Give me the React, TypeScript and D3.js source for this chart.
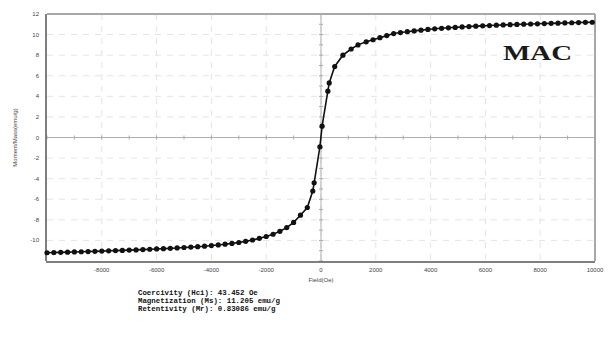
import * as d3 from "d3";

// Field (Oe) and moment (emu/g)
const fields = [
  -10000, -9750, -9500, -9250, -9000, -8750, -8500, -8250, -8000, -7750,
  -7500, -7250, -7000, -6750, -6500, -6250, -6000, -5750, -5500, -5250,
  -5000, -4750, -4500, -4250, -4000, -3750, -3500, -3250, -3000, -2750,
  -2500, -2250, -2000, -1750, -1500, -1250, -1000, -750, -500, -300,
  -250, -40, 40, 250, 300, 500, 800, 1100, 1350, 1650,
  1900, 2150, 2400, 2650, 2900, 3150, 3400, 3650, 3900, 4150,
  4400, 4650, 4900, 5150, 5400, 5650, 5900, 6150, 6400, 6650,
  6900, 7150, 7400, 7650, 7900, 8150, 8400, 8650, 8900, 9150,
  9400, 9650, 9900,
];
const moments = [
  -11.2, -11.18, -11.16, -11.14, -11.12, -11.1, -11.08, -11.06, -11.04, -11.01,
  -10.99, -10.97, -10.94, -10.92, -10.89, -10.86, -10.83, -10.8, -10.77, -10.73,
  -10.69, -10.65, -10.61, -10.56, -10.5, -10.44, -10.37, -10.29, -10.2, -10.09,
  -9.96, -9.8, -9.62, -9.4, -9.12, -8.75, -8.25, -7.55, -6.8, -5.2,
  -4.4, -0.9, 1.1, 4.5, 5.3, 6.9, 8.0, 8.6, 9.0, 9.3,
  9.5, 9.7, 9.9, 10.1, 10.2, 10.28, 10.36, 10.43, 10.5, 10.56,
  10.61, 10.66, 10.7, 10.74, 10.78, 10.82, 10.85, 10.88, 10.91, 10.94,
  10.96, 10.99, 11.01, 11.03, 11.05, 11.07, 11.09, 11.11, 11.13, 11.15,
  11.17, 11.19, 11.2,
];
const xTicks = [-8000, -6000, -4000, -2000, 0, 2000, 4000, 6000, 8000, 10000];
const yTicks = [-10, -8, -6, -4, -2, 0, 2, 4, 6, 8, 10, 12];
const summary = [
  "Coercivity (Hci): 43.452 Oe",
  "Magnetization (Ms): 11.205 emu/g",
  "Retentivity (Mr): 0.83086 emu/g",
];

export default function App() {
  const W = 608, H = 341;
  const x = d3.scaleLinear().domain([-10000, 10000]).range([47, 595]);
  const y = d3.scaleLinear().domain([-12, 12]).range([261, 14]);
  const pts = fields.map((f, i) => [f, moments[i]] as [number, number]);
  const line = d3.line<[number, number]>().x((d) => x(d[0])).y((d) => y(d[1]));
  const minorX = d3.range(-10000, 10001, 1000);
  const minorY = d3.range(-12, 12.1, 1);
  const tickFont = "Arial, 'Liberation Sans', sans-serif";

  return (
    <svg width={W} height={H} style={{ position: "absolute", left: 0, top: 0, background: "#fff" }}>
      {/* grid */}
      {xTicks.map((t) => (
        <line key={"gx" + t} x1={x(t)} x2={x(t)} y1={y(12)} y2={y(-12)} stroke="#e4e4e4" strokeDasharray="6,6" />
      ))}
      {yTicks.map((t) => (
        <line key={"gy" + t} x1={x(-10000)} x2={x(10000)} y1={y(t)} y2={y(t)} stroke="#e4e4e4" strokeDasharray="6,6" />
      ))}
      {/* zero axes */}
      <line x1={x(-10000)} x2={x(10000)} y1={y(0)} y2={y(0)} stroke="#b0b0b0" />
      <line x1={x(0)} x2={x(0)} y1={y(12)} y2={y(-12)} stroke="#b0b0b0" />
      {minorX.map((t) => (
        <line key={"mx" + t} x1={x(t)} x2={x(t)} y1={y(0) - 2} y2={y(0) + 2} stroke="#aaa" />
      ))}
      {minorY.map((t) => (
        <line key={"my" + t} x1={x(0) - 2} x2={x(0) + 2} y1={y(t)} y2={y(t)} stroke="#aaa" />
      ))}
      {/* frame */}
      <line x1={x(-10000)} x2={x(10000)} y1={y(12)} y2={y(12)} stroke="#a8a8a8" strokeWidth={2} />
      <line x1={x(10000)} x2={x(10000)} y1={y(12)} y2={y(-12)} stroke="#a8a8a8" strokeWidth={2} />
      <line x1={x(-10000) - 1} x2={x(-10000) - 1} y1={y(12)} y2={y(-12)} stroke="#555" strokeWidth={1.5} />
      <line x1={x(-10000) - 1} x2={x(10000)} y1={y(-12) + 1} y2={y(-12) + 1} stroke="#555" strokeWidth={1.5} />
      {/* tick labels */}
      {yTicks.map((t) => (
        <text key={"ly" + t} x={39} y={y(t) + 2} textAnchor="end" fontSize={6} fontFamily={tickFont} fill="#444">
          {t}
        </text>
      ))}
      {xTicks.map((t) => (
        <text key={"lx" + t} x={x(t)} y={272} textAnchor="middle" fontSize={6} fontFamily={tickFont} fill="#444">
          {t}
        </text>
      ))}
      <text x={x(0)} y={282} textAnchor="middle" fontSize={6} fontFamily={tickFont} fill="#444">
        Field(Oe)
      </text>
      <text transform={`translate(17,${y(0)}) rotate(-90)`} textAnchor="middle" fontSize={6} fontFamily={tickFont} fill="#444">
        Moment/Mass(emu/g)
      </text>
      {/* data */}
      <path d={line(pts) ?? ""} fill="none" stroke="#111" strokeWidth={1.6} />
      {pts.map((d, i) => (
        <circle key={i} cx={x(d[0])} cy={y(d[1])} r={2.6} fill="#111" />
      ))}
      <text x={503} y={60} fontSize={21} fontWeight="bold" fontFamily="'Liberation Serif', 'Times New Roman', serif" textLength={69} lengthAdjust="spacingAndGlyphs" fill="#1a1a1a">
        MAC
      </text>
      {summary.map((s, i) => (
        <text key={s} x={138} y={295 + i * 8} fontSize={7.4} fontWeight="bold" fontFamily="'Liberation Mono', 'DejaVu Sans Mono', monospace" fill="#111" xmlSpace="preserve">
          {s}
        </text>
      ))}
    </svg>
  );
}
